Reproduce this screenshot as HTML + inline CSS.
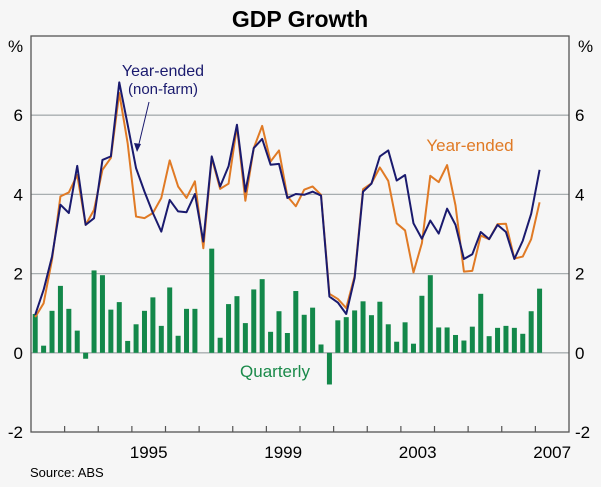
<!DOCTYPE html>
<html><head><meta charset="utf-8"><style>
body{margin:0;background:#f6f6f6;}
svg{display:block;font-family:"Liberation Sans",Arial,sans-serif;}
</style></head><body>
<svg id="chart" width="601" height="487" xmlns="http://www.w3.org/2000/svg">
<rect width="601" height="487" fill="#f6f6f6"/>
<text x="300" y="27" text-anchor="middle" font-size="23" font-weight="bold" fill="#000">GDP Growth</text>
<g id="grid"></g><g id="bars"></g><g id="lines"></g><g id="axes"></g>
<text x="163" y="76" text-anchor="middle" font-size="16" fill="#1a1a6e">Year-ended</text>
<text x="163" y="94" text-anchor="middle" font-size="15" fill="#1a1a6e">(non-farm)</text>
<line x1="149" y1="102" x2="138" y2="148" stroke="#1a1a6e" stroke-width="1"/>
<polygon points="137,152 134,143 141,144" fill="#1a1a6e"/>
<text x="470" y="151" text-anchor="middle" font-size="17" fill="#e07a25">Year-ended</text>
<text x="275" y="377" text-anchor="middle" font-size="17" fill="#1a8a4a">Quarterly</text>
<text x="30" y="477" font-size="13" fill="#000">Source: ABS</text>
</svg>
<script>
const quarterly=[0.98,0.18,1.06,1.69,1.11,0.56,-0.15,2.08,1.96,1.09,1.28,0.30,0.72,1.06,1.40,0.68,1.65,0.43,1.11,1.11,0.0,2.63,0.38,1.23,1.43,0.75,1.60,1.86,0.53,1.05,0.50,1.56,0.96,1.14,0.21,-0.8,0.82,0.90,1.07,1.30,0.95,1.29,0.72,0.28,0.77,0.23,1.44,1.96,0.64,0.64,0.45,0.31,0.66,1.49,0.42,0.63,0.68,0.63,0.48,1.05,1.62];
const nonFarm=[0.96,1.59,2.43,3.74,3.53,4.72,3.23,3.40,4.87,4.96,6.83,5.76,4.66,4.07,3.53,3.06,3.86,3.57,3.55,4.01,2.81,4.96,4.20,4.71,5.76,4.07,5.17,5.40,4.75,4.77,3.91,4.01,3.99,4.07,3.97,1.42,1.27,0.98,1.89,4.07,4.27,4.96,5.11,4.35,4.49,3.27,2.88,3.34,3.01,3.64,3.23,2.37,2.49,3.05,2.87,3.23,3.05,2.37,2.83,3.51,4.62];
const yearEnded=[0.90,1.25,2.35,3.95,4.05,4.49,3.23,3.61,4.62,4.92,6.56,5.29,3.44,3.40,3.53,3.91,4.86,4.20,3.91,4.33,2.64,4.92,4.14,4.27,5.72,3.84,5.17,5.73,4.83,5.11,3.95,3.70,4.12,4.20,3.99,1.49,1.36,1.13,1.94,4.13,4.28,4.68,4.34,3.27,3.09,2.03,2.77,4.47,4.31,4.74,3.72,2.05,2.07,2.96,2.87,3.25,3.26,2.38,2.43,2.87,3.80];
const yTicks=[-2,0,2,4,6];
const yearLabels=[1995,1999,2003,2007];
const startYear=1992,endYear=2008;
const L=31,R=569,T=36,B=432,yMin=-2,yMax=8;
const ns="http://www.w3.org/2000/svg";
function X(t){return L+(t-startYear)/(endYear-startYear)*(R-L);}
function Y(v){return B-(v-yMin)/(yMax-yMin)*(B-T);}
function qx(i){return X(startYear+(i+0.5)/4);}
function mk(tag,attrs,parent){const e=document.createElementNS(ns,tag);for(const k in attrs)e.setAttribute(k,attrs[k]);document.getElementById(parent).appendChild(e);return e;}
yTicks.forEach(v=>{
 if(v>yMin){const g=mk('line',{x1:L,x2:R,y1:Y(v),y2:Y(v),stroke:'#a8aeb0','stroke-width':1.3},'grid');
 
 }
 const a=mk('text',{x:L-8,y:Y(v)+6,'text-anchor':'end','font-size':17},'axes');a.textContent=v;
 
 
 const b=mk('text',{x:R+6,y:Y(v)+6,'font-size':17},'axes');b.textContent=v;
 
 
});
quarterly.forEach((v,i)=>{
 const r=mk('rect',{x:qx(i)-2.5,width:5,y:Math.min(Y(v),Y(0)),height:Math.abs(Y(v)-Y(0)),fill:'#13884a'},'bars');
 
 
});
function line(data,color,name){
 const p=mk('polyline',{points:data.map((v,i)=>qx(i)+','+Y(v)).join(' '),fill:'none',stroke:color,'stroke-width':2,'stroke-linejoin':'round'},'lines');
 
 
}
line(yearEnded,'#e07a25','year-ended-line');
line(nonFarm,'#1a1a6e','non-farm-line');
const fr=mk('rect',{x:L,y:T,width:R-L,height:B-T,fill:'none',stroke:'#555','stroke-width':1.3},'axes');


for(let y=startYear+1;y<endYear;y++){
 const t=mk('line',{x1:X(y),x2:X(y),y1:B,y2:B-6,stroke:'#555','stroke-width':1.2},'axes');
 
 
}
yearLabels.forEach(y=>{
 const t=mk('text',{x:X(y+0.5),y:B+26,'text-anchor':'middle','font-size':17},'axes');t.textContent=y;
 
 
});
['left','right'].forEach(s=>{
 const t=mk('text',{x:s=='left'?8:578,y:52,'font-size':17},'axes');t.textContent='%';
 
 
});
</script>
</body></html>
